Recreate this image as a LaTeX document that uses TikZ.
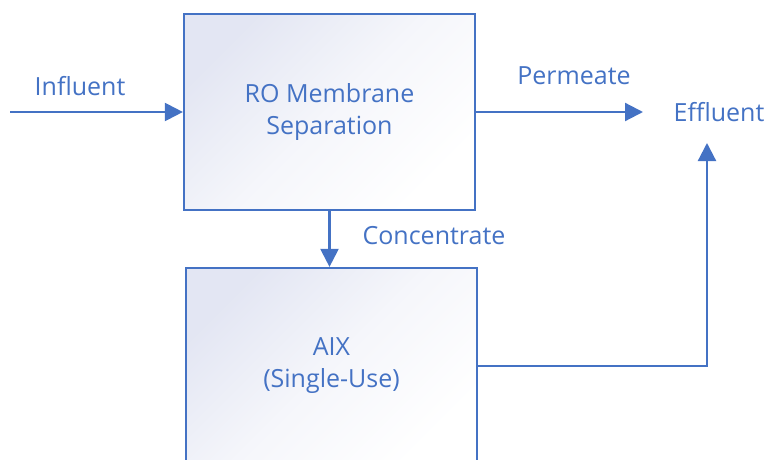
\documentclass[tikz,border=0pt]{standalone}
\usepackage{fontspec}
\setmainfont{Open Sans}
\usetikzlibrary{arrows.meta}
\definecolor{flowblue}{HTML}{4472C4}
\definecolor{boxlav}{HTML}{E3E6F3}
\tikzset{
	unitbox/.style={rectangle, draw=flowblue, line width=2.2pt, minimum width=291pt, minimum height=196pt,
		left color=boxlav, right color=white, middle color=boxlav!35!white, shading angle=45,
		text=flowblue, align=center, font=\fontsize{25}{32}\selectfont},
	flowlabel/.style={text=flowblue, font=\fontsize{25}{30}\selectfont},
	flow/.style={draw=flowblue, line width=2.2pt, -{Triangle[length=18pt,width=18pt]}}
}
\begin{document}
\begin{tikzpicture}[x=1pt, y=-1pt]
	\clip (0,0) rectangle (769,460);
	%process units
	\node[unitbox] (ro) at (329.5,112) {RO Membrane\\Separation};
	\node[unitbox] (aix) at (331.5,366) {AIX\\(Single-Use)};
	
	%stream labels
	\node[flowlabel] (infl) at (80,86) {Influent};
	\node[flowlabel] (perm) at (574,76) {Permeate};
	\node[flowlabel] (conc) at (434,236) {Concentrate};
	\node[flowlabel] (eff) at (719,112) {Effluent};
	
	\coordinate (src) at (10,112);
	\coordinate (permend) at (643,112);
	\coordinate (effin) at (707,143);
	
	%streams
	\draw[flow] (src) -- (ro.west);
	\draw[flow] (ro.east) -- (permend);
	\draw[flow] (ro.south) -- (ro.south |- aix.north);
	\draw[flow] (aix.east) -| (effin);
\end{tikzpicture}
\end{document}
